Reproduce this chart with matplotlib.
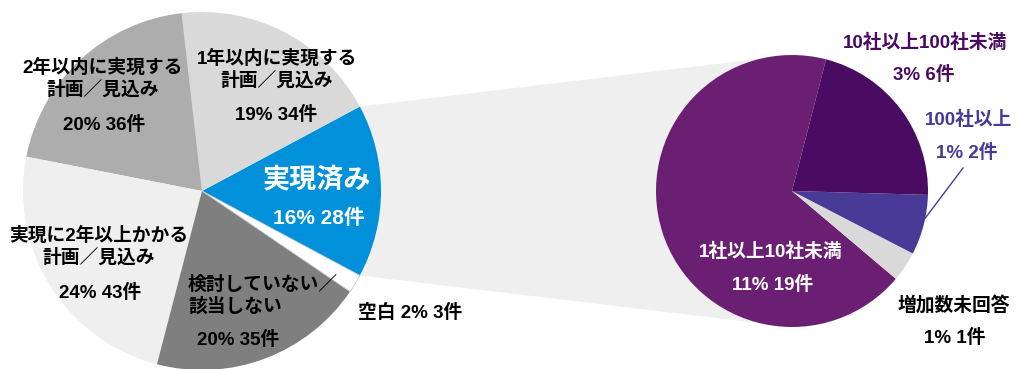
import numpy as np
import matplotlib
matplotlib.use("Agg")
import matplotlib.pyplot as plt
from matplotlib.patches import Polygon

plt.rcParams['font.family'] = ['Liberation Sans', 'Noto Sans CJK JP', 'DejaVu Sans']

# Main breakdown (counts)
main_labels = ["実現済み", "1年以内に実現する\n計画／見込み", "2年以内に実現する\n計画／見込み",
               "実現に2年以上かかる\n計画／見込み", "検討していない／\n該当しない", "空白"]
main_counts = [28, 34, 36, 43, 35, 3]
main_colors = ["#0091DA", "#D9D9D9", "#ADADAD", "#EFEFEF", "#7F7F7F", "#FFFFFF"]

# Breakdown of the "実現済み" slice
sub_labels = ["1社以上10社未満", "増加数未回答", "100社以上", "10社以上100社未満"]
sub_counts = [19, 1, 2, 6]
sub_colors = ["#6B1F73", "#D9D9D9", "#4A3A97", "#4A0C62"]

total = sum(main_counts)


def pct(v):
    return f"{round(v / total * 100)}% {v}件"


W, H = 1018, 369
fig = plt.figure(figsize=(W / 100, H / 100), dpi=100)
ax = fig.add_axes([0, 0, 1, 1])


def Y(y):
    return H - y


# left pie, blue slice centred on the right-hand side
c1, r1 = (202, Y(191)), 179
blue_angle = main_counts[0] / total * 360
w1, _ = ax.pie(main_counts, colors=main_colors, center=c1, radius=r1,
               startangle=-blue_angle / 2, counterclock=True, frame=True,
               wedgeprops=dict(linewidth=0, zorder=3))
w1[-1].set_edgecolor("#C8C8C8")
w1[-1].set_linewidth(0.6)

# right pie
c2, r2 = (792, Y(191)), 136
w2, _ = ax.pie(sub_counts, colors=sub_colors, center=c2, radius=r2,
               startangle=75.5, counterclock=True, frame=True,
               wedgeprops=dict(linewidth=0, zorder=3))

# connecting band from the blue slice to the sub pie
bw = w1[0]
t1, t2 = np.radians(bw.theta1), np.radians(bw.theta2)
p_top = (c1[0] + r1 * np.cos(t2), c1[1] + r1 * np.sin(t2))
p_bot = (c1[0] + r1 * np.cos(t1), c1[1] + r1 * np.sin(t1))
band = Polygon([p_top, (c2[0], c2[1] + r2), (c2[0], c2[1] - r2), p_bot],
               closed=True, facecolor="#EFEFEF", edgecolor="none", zorder=1)
ax.add_patch(band)

ax.set_xlim(0, W)
ax.set_ylim(0, H)
ax.set_aspect("equal")
ax.axis("off")

fs = 13.5
kw = dict(ha="center", va="center", fontsize=fs, fontweight="bold", zorder=5)

# left pie labels
ax.text(103, Y(79), main_labels[2], linespacing=1.25, **kw)
ax.text(104, Y(125), pct(main_counts[2]), **kw)
ax.text(277, Y(70), main_labels[1], linespacing=1.25, **kw)
ax.text(276, Y(115), pct(main_counts[1]), **kw)
ax.text(317, Y(180), main_labels[0], color="white", ha="center", va="center",
        fontsize=19.5, fontweight="bold", zorder=5)
ax.text(319, Y(218), pct(main_counts[0]), color="white", ha="center", va="center",
        fontsize=15, fontweight="bold", zorder=5)
ax.text(99, Y(247), main_labels[3], linespacing=1.25, **kw)
ax.text(100, Y(293), pct(main_counts[3]), **kw)
ax.text(188, Y(296), main_labels[4], ha="left", va="center", fontsize=fs,
        fontweight="bold", linespacing=1.25, zorder=5)
ax.text(238, Y(340), pct(main_counts[4]), **kw)
ax.text(358, Y(313), f"{main_labels[5]} {pct(main_counts[5])}", ha="left",
        va="center", fontsize=fs, fontweight="bold", zorder=5)

# right pie labels
ax.text(925, Y(43), sub_labels[3], color=sub_colors[3], **kw)
ax.text(924, Y(75), pct(sub_counts[3]), color=sub_colors[3], **kw)
ax.text(969, Y(120), sub_labels[2], color=sub_colors[2], **kw)
ax.text(967, Y(153), pct(sub_counts[2]), color=sub_colors[2], **kw)
ax.text(771, Y(252), sub_labels[0], color="white", **kw)
ax.text(773, Y(285), pct(sub_counts[0]), color="white", **kw)
ax.text(954, Y(305), sub_labels[1], **kw)
ax.text(955, Y(338), pct(sub_counts[1]), **kw)

# leader line for the small "100社以上" slice
lw = w2[2]
mid = np.radians((lw.theta1 + lw.theta2) / 2 + 3)
ax.plot([c2[0] + r2 * np.cos(mid), 963], [c2[1] + r2 * np.sin(mid), Y(168)],
        color=sub_colors[2], lw=1, zorder=4)

fig.savefig("out.png", dpi=100)
